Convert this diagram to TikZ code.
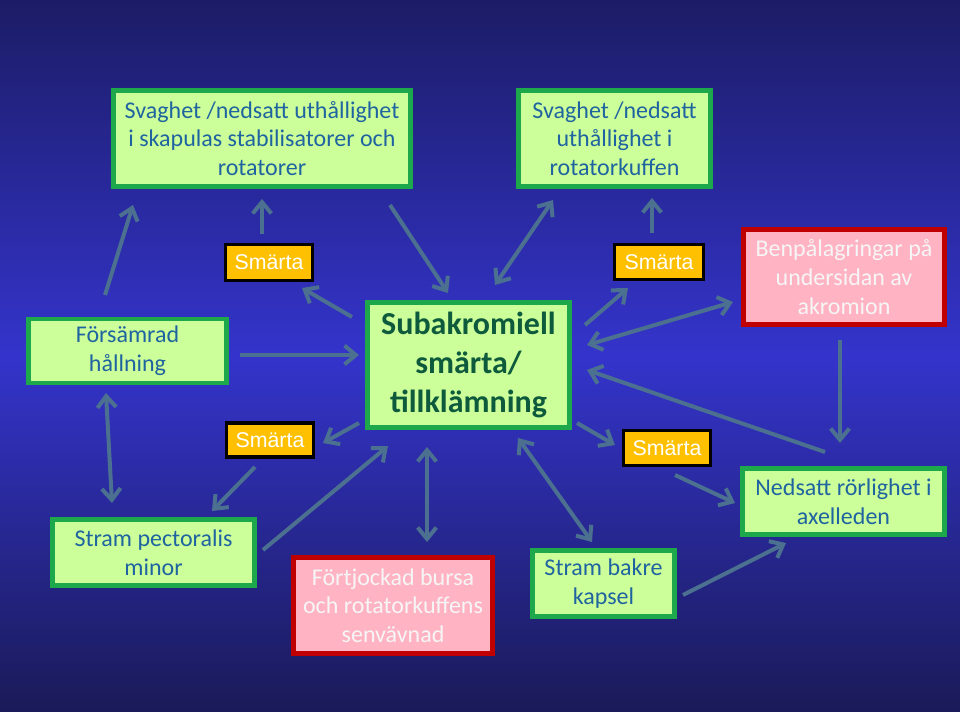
\documentclass[tikz,border=0pt]{standalone}
\usepackage{fontspec}
\setmainfont{Carlito}
\newfontfamily\arialfont{Liberation Sans}
\usetikzlibrary{arrows.meta}
\definecolor{bgtop}{HTML}{1C1C66}
\definecolor{bgmid}{HTML}{3434CC}
\definecolor{bgbot}{HTML}{1A1A58}
\definecolor{boxgreen}{HTML}{1EA84C}
\definecolor{boxfill}{HTML}{CCFF99}
\definecolor{txtblue}{HTML}{1F64A0}
\definecolor{txtgreen}{HTML}{0E5A3C}
\definecolor{boxred}{HTML}{C00000}
\definecolor{pinkfill}{HTML}{FFB3C3}
\definecolor{pinktxt}{HTML}{F6F6F6}
\definecolor{painfill}{HTML}{FFC000}
\definecolor{arrowcol}{HTML}{4C7090}
\tikzset{
  gbox/.style={draw=boxgreen, fill=boxfill, line width=3.6pt, text=txtblue,
    align=center, inner sep=0pt, font=\fontsize{18}{21.5}\selectfont},
  rbox/.style={draw=boxred, fill=pinkfill, line width=3.6pt, text=pinktxt,
    align=center, inner sep=0pt, font=\fontsize{18}{21.5}\selectfont},
  pain/.style={draw=black, fill=painfill, line width=2.4pt, text=white,
    inner sep=0pt, font=\arialfont\fontsize{16}{19}\selectfont},
  arr/.style={draw=arrowcol, line width=3pt, -{Straight Barb[length=8.5pt,width=14pt]}},
  darr/.style={draw=arrowcol, line width=3pt, {Straight Barb[length=8.5pt,width=14pt]}-{Straight Barb[length=8.5pt,width=14pt]}},
}
\begin{document}
\begin{tikzpicture}[x=0.75pt,y=-0.75pt]
\useasboundingbox (0,0) rectangle (960,712);
\shade[top color=bgtop, bottom color=bgmid] (0,0) rectangle (960,356);
\shade[top color=bgmid, bottom color=bgbot] (0,355) rectangle (960,712);

% boxes
\node[gbox, minimum width=297*0.75pt, minimum height=96*0.75pt] (tl) at (262,138.5)
  {Svaghet /nedsatt uthållighet\\ i skapulas stabilisatorer och\\ rotatorer};
\node[gbox, minimum width=192*0.75pt, minimum height=96*0.75pt] (tr) at (614.5,138.5)
  {Svaghet /nedsatt\\ uthållighet i\\ rotatorkuffen};
\node[gbox, minimum width=198*0.75pt, minimum height=64*0.75pt] (fors) at (127.5,351)
  {Försämrad\\ hållning};
\node[gbox, text=txtgreen, minimum width=202*0.75pt, minimum height=125*0.75pt,
  font=\bfseries\fontsize{24}{29}\selectfont] (sub) at (468.5,365)
  {Subakromiell\\ smärta/\\ tillklämning};
\node[rbox, minimum width=201*0.75pt, minimum height=95*0.75pt] (ben) at (844,277)
  {Benpålagringar på\\ undersidan av\\ akromion};
\node[gbox, minimum width=202*0.75pt, minimum height=66*0.75pt] (ned) at (843.5,501.5)
  {Nedsatt rörlighet i\\ axelleden};
\node[gbox, minimum width=202*0.75pt, minimum height=66*0.75pt] (pect) at (153.5,552.5)
  {Stram pectoralis\\ minor};
\node[rbox, minimum width=199*0.75pt, minimum height=96*0.75pt] (fort) at (393,605.5)
  {Förtjockad bursa\\ och rotatorkuffens\\ senvävnad};
\node[gbox, minimum width=142*0.75pt, minimum height=66*0.75pt] (bakre) at (603.5,583.5)
  {Stram bakre\\ kapsel};

% pain boxes
\node[pain, minimum width=87*0.75pt, minimum height=36*0.75pt] (p1) at (269,262.5) {Smärta};
\node[pain, minimum width=87*0.75pt, minimum height=34*0.75pt] (p2) at (270,440) {Smärta};
\node[pain, minimum width=89*0.75pt, minimum height=35*0.75pt] (p3) at (659,262) {Smärta};
\node[pain, minimum width=87*0.75pt, minimum height=35*0.75pt] (p4) at (667,448) {Smärta};

% arrow endpoints
\coordinate (a1s) at (105,295);  \coordinate (a1e) at (133,205);
\coordinate (a2s) at (262,234);  \coordinate (a2e) at (262,199);
\coordinate (a3s) at (352,317);  \coordinate (a3e) at (302,288);
\coordinate (a4s) at (390,205);  \coordinate (a4e) at (448,293);
\coordinate (a5s) at (240,355);  \coordinate (a5e) at (359,355);
\coordinate (a6s) at (106,393);  \coordinate (a6e) at (112,503);
\coordinate (a7s) at (359,423);  \coordinate (a7e) at (323,443);
\coordinate (a8s) at (255,467);  \coordinate (a8e) at (212,511);
\coordinate (a9s) at (263,550);  \coordinate (a9e) at (388,446);
\coordinate (a10s) at (427,447); \coordinate (a10e) at (427,542);
\coordinate (a11s) at (518,438); \coordinate (a11e) at (592,542);
\coordinate (a12s) at (577,423); \coordinate (a12e) at (615,445);
\coordinate (a13s) at (675,475); \coordinate (a13e) at (735,503);
\coordinate (a14s) at (683,595); \coordinate (a14e) at (786,543);
\coordinate (a15s) at (840,340); \coordinate (a15e) at (840,443);
\coordinate (a16s) at (825,452); \coordinate (a16e) at (587,370);
\coordinate (a17s) at (587,345); \coordinate (a17e) at (733,302);
\coordinate (a18s) at (585,325); \coordinate (a18e) at (628,288);
\coordinate (a19s) at (652,233); \coordinate (a19e) at (652,198);
\coordinate (a20s) at (553,200); \coordinate (a20e) at (495,285);

\draw[arr] (a1s) -- (a1e);
\draw[arr] (a2s) -- (a2e);
\draw[arr] (a3s) -- (a3e);
\draw[arr] (a4s) -- (a4e);
\draw[arr] (a5s) -- (a5e);
\draw[darr] (a6s) -- (a6e);
\draw[arr] (a7s) -- (a7e);
\draw[arr] (a8s) -- (a8e);
\draw[arr] (a9s) -- (a9e);
\draw[darr] (a10s) -- (a10e);
\draw[darr] (a11s) -- (a11e);
\draw[arr] (a12s) -- (a12e);
\draw[arr] (a13s) -- (a13e);
\draw[arr] (a14s) -- (a14e);
\draw[arr] (a15s) -- (a15e);
\draw[arr] (a16s) -- (a16e);
\draw[darr] (a17s) -- (a17e);
\draw[arr] (a18s) -- (a18e);
\draw[arr] (a19s) -- (a19e);
\draw[darr] (a20s) -- (a20e);
\end{tikzpicture}
\end{document}
